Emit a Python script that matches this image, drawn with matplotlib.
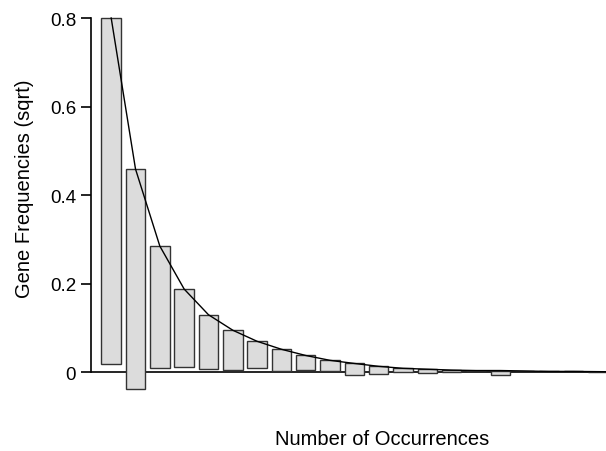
import numpy as np
import matplotlib
matplotlib.use("Agg")
import matplotlib.pyplot as plt

plt.rcParams['font.family'] = ['Liberation Sans', 'DejaVu Sans']

# occurrence classes 1..24
occurrences = np.arange(1, 25)
# square root of fitted frequencies (bar tops / curve)
fitted_sqrt = [0.800, 0.459, 0.285, 0.188, 0.130, 0.095, 0.070, 0.052,
               0.038, 0.027, 0.020, 0.0135, 0.009, 0.007, 0.005, 0.004,
               0.004, 0.003, 0.002, 0.002, 0.0015, 0.001, 0.001, 0.001]
# square root of observed frequencies (bar lengths)
observed_sqrt = [0.781, 0.497, 0.276, 0.177, 0.1225, 0.089, 0.0595, 0.049,
                 0.033, 0.025, 0.026, 0.0175, 0.0075, 0.009, 0.004, 0.0,
                 0.0105, 0.0, 0.0, 0.0, 0.0, 0.0, 0.0, 0.0]
yticks = [0, 0.2, 0.4, 0.6, 0.8]
ytick_labels = ["0", "0.2", "0.4", "0.6", "0.8"]

fitted_sqrt = np.array(fitted_sqrt)
observed_sqrt = np.array(observed_sqrt)
bottoms = fitted_sqrt - observed_sqrt

fig = plt.figure(figsize=(6.06, 4.52), dpi=100)
ax = fig.add_axes([91/606, 0.1153, 582/606, 0.8544])

# hanging rootogram: bars hang from the fitted curve
ax.bar(occurrences, observed_sqrt, bottom=bottoms, width=0.8,
       color='#dcdcdc', edgecolor='#333333', linewidth=1.0, zorder=2)
ax.plot(occurrences, fitted_sqrt, color='black', linewidth=1.0, zorder=3)
ax.axhline(0, color='black', linewidth=1.2, zorder=1)

ax.set_xlim(0.17, 24.1)
ax.set_ylim(-0.06, 0.812)

for s in ['top', 'right', 'bottom']:
    ax.spines[s].set_visible(False)
ax.spines['left'].set_bounds(0, 0.8)
ax.spines['left'].set_linewidth(1.2)

ax.set_xticks([])
ax.set_yticks(yticks)
ax.set_yticklabels(ytick_labels)
ax.tick_params(axis='y', length=7.2, width=1.2, pad=3.5, labelsize=13.5)

ax.set_xlabel("Number of Occurrences", fontsize=14.5)
ax.xaxis.set_label_coords(0.5, -0.0785)
ax.set_ylabel("Gene Frequencies (sqrt)", fontsize=14.5)
ax.yaxis.set_label_coords(-0.098, 0.546)

fig.savefig("out.png", dpi=100)
